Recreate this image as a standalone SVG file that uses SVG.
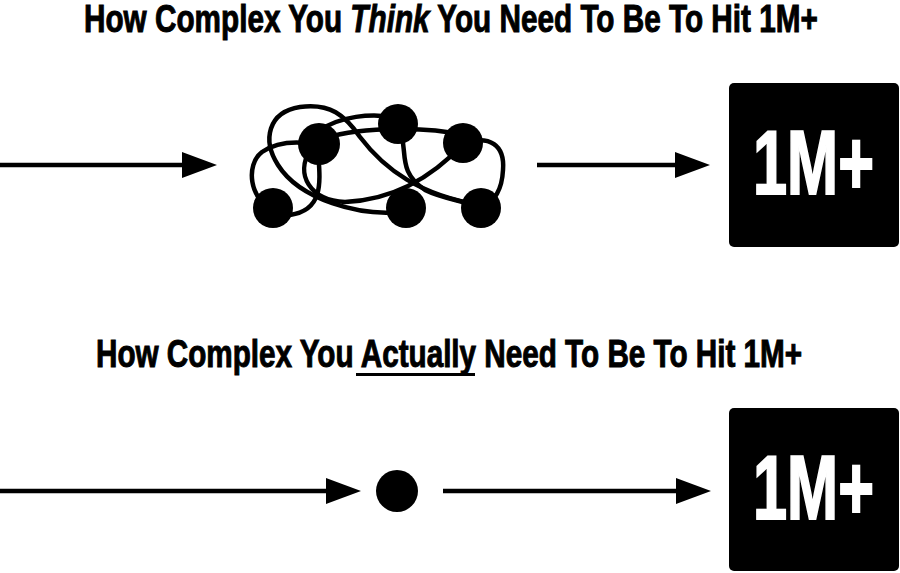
<svg xmlns="http://www.w3.org/2000/svg" width="900" height="573" viewBox="0 0 900 573">
<style>
.title{font-family:"Liberation Sans",Arial,sans-serif;font-weight:bold;font-size:38px;fill:#000;stroke:#000;stroke-width:1}
.big{font-family:"Liberation Sans",Arial,sans-serif;font-weight:bold;font-size:90px;fill:#fff;stroke:#fff;stroke-width:2}
.ln{stroke:#000;stroke-width:4.5;fill:none}
.hd{fill:#000}
.knot{stroke:#000;stroke-width:4.5;fill:none;stroke-linecap:round}
</style>
<rect width="900" height="573" fill="#fff"/>
<text class="title" transform="translate(84,32) scale(0.77,1)" x="0" y="0" textLength="953" lengthAdjust="spacingAndGlyphs">How Complex You <tspan font-style="italic">Think</tspan> You Need To Be To Hit 1M+</text>
<text class="title" transform="translate(96,367) scale(0.77,1)" x="0" y="0" textLength="917" lengthAdjust="spacingAndGlyphs">How Complex You Actually Need To Be To Hit 1M+</text>
<line x1="356" y1="374.5" x2="475" y2="374.5" stroke="#000" stroke-width="3"/>
<g id="connectors">
<line class="ln" x1="0" y1="165" x2="190" y2="165"/>
<polygon class="hd" points="182,152 217,165 182,178"/>
<line class="ln" x1="537" y1="165" x2="683" y2="165"/>
<polygon class="hd" points="675,152 710,165 675,178"/>
<line class="ln" x1="0" y1="491" x2="334" y2="491"/>
<polygon class="hd" points="326,478 361,491 326,504"/>
<line class="ln" x1="443" y1="491" x2="684" y2="491"/>
<polygon class="hd" points="676,478 711,491 676,504"/>
</g>
<g id="complex-knot">
<path class="knot" d="M400 212 C360 216,300 200,278 165 C262 140,268 112,300 107 C330 103,345 115,360 137 C385 170,420 195,480 205"/>
<path class="knot" d="M318 150 C320 180,325 210,290 215 L274 212"/>
<path class="knot" d="M310 150 C295 175,310 200,345 202 C390 200,430 180,464 143"/>
<path class="knot" d="M320 130 C340 117,370 112,398 118"/>
<path class="knot" d="M320 140 C350 128,420 125,464 135"/>
<path class="knot" d="M398 124 C410 150,395 170,425 190 C445 200,465 200,482 209"/>
<path class="knot" d="M464 143 C490 135,505 145,503 170 C502 190,495 200,482 209"/>
<path class="knot" d="M272 208 C250 200,245 165,262 152 C275 143,295 140,320 145"/>
<circle cx="273" cy="208" r="20"/>
<circle cx="319" cy="144" r="21"/>
<circle cx="398" cy="124" r="20"/>
<circle cx="463" cy="143" r="20"/>
<circle cx="406" cy="208" r="20"/>
<circle cx="481" cy="208" r="20"/>
</g>
<g id="goal-top">
<rect x="729" y="83" width="170" height="164" rx="5"/>
<text class="big" transform="translate(753,194) scale(0.68,1)" x="0" y="0" textLength="178" lengthAdjust="spacingAndGlyphs">1M+</text>
</g>
<g id="simple-dot">
<circle cx="397" cy="491" r="21"/>
</g>
<g id="goal-bottom">
<rect x="729" y="408" width="170" height="163" rx="5"/>
<text class="big" transform="translate(753,519) scale(0.68,1)" x="0" y="0" textLength="178" lengthAdjust="spacingAndGlyphs">1M+</text>
</g>
</svg>
